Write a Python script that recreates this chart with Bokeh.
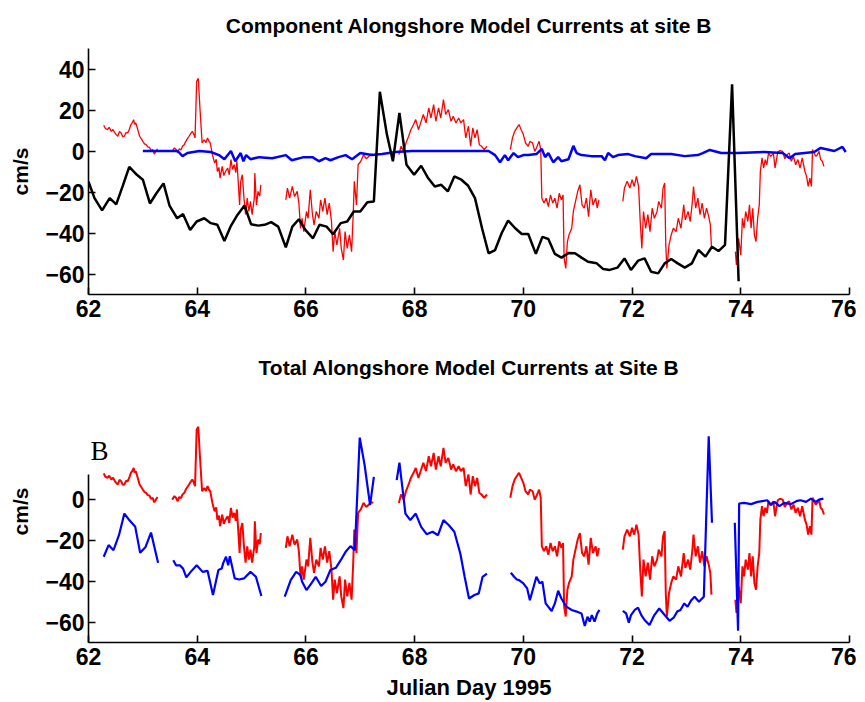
import math
from bokeh.plotting import figure
from bokeh.layouts import column
from bokeh.models import FixedTicker, Label
from bokeh.embed import file_html
from bokeh.resources import INLINE

NAN = float("nan")

# ---------------- data ----------------
x_ticks = [62, 64, 66, 68, 70, 72, 74, 76]
top_y_ticks = [-60, -40, -20, 0, 20, 40]
bot_y_ticks = [-60, -40, -20, 0]

# Red: alongshore current (same series in both panels), 7 segments
red_x_segs = [
    [62.28, 62.31, 62.35, 62.38, 62.42, 62.45, 62.48, 62.51, 62.54, 62.57, 62.60, 62.63, 62.66, 62.69, 62.72, 62.75, 62.78, 62.81, 62.83, 62.85, 62.87, 62.90, 62.94, 62.97, 63.00, 63.03, 63.06, 63.09, 63.12, 63.15, 63.18, 63.21, 63.24, 63.27],
    [63.54, 63.58, 63.61, 63.64, 63.67, 63.70, 63.73, 63.76, 63.79, 63.82, 63.85, 63.88, 63.91, 63.94, 63.96, 63.99, 64.02, 64.05, 64.09, 64.13, 64.16, 64.19, 64.22, 64.24, 64.28, 64.32, 64.35, 64.37, 64.40, 64.42, 64.46, 64.49, 64.52, 64.56, 64.59, 64.62, 64.65, 64.68, 64.71, 64.73, 64.75, 64.78, 64.80, 64.83, 64.86, 64.89, 64.92, 64.95, 64.98, 65.01, 65.05, 65.06, 65.09, 65.12, 65.15, 65.17],
    [65.63, 65.66, 65.70, 65.75, 65.79, 65.84, 65.87, 65.90, 65.93, 65.96, 66.01, 66.04, 66.08, 66.12, 66.15, 66.19, 66.24, 66.27, 66.31, 66.35, 66.39, 66.43, 66.47, 66.50, 66.53, 66.57, 66.62, 66.65, 66.69, 66.72, 66.76, 66.80, 66.84, 66.87, 66.89, 66.93, 66.96, 67.01, 67.06, 67.11, 67.16, 67.20, 67.24],
    [67.71, 67.75, 67.80, 67.84, 67.89, 67.93, 67.98, 68.02, 68.07, 68.12, 68.16, 68.21, 68.26, 68.30, 68.35, 68.39, 68.44, 68.48, 68.53, 68.57, 68.62, 68.67, 68.71, 68.76, 68.81, 68.85, 68.90, 68.94, 68.99, 69.03, 69.07, 69.11, 69.15, 69.19, 69.23, 69.28, 69.33],
    [69.76, 69.80, 69.84, 69.88, 69.92, 69.96, 70.00, 70.04, 70.09, 70.12, 70.17, 70.21, 70.24, 70.29, 70.32, 70.34, 70.38, 70.42, 70.46, 70.50, 70.54, 70.58, 70.62, 70.66, 70.70, 70.73, 70.75, 70.78, 70.81, 70.84, 70.89, 70.92, 70.96, 71.00, 71.04, 71.08, 71.12, 71.16, 71.20, 71.24, 71.28, 71.33, 71.36, 71.39],
    [71.83, 71.86, 71.91, 71.96, 72.00, 72.04, 72.08, 72.12, 72.15, 72.18, 72.21, 72.25, 72.29, 72.33, 72.37, 72.41, 72.46, 72.49, 72.54, 72.57, 72.60, 72.62, 72.64, 72.68, 72.72, 72.76, 72.81, 72.85, 72.90, 72.95, 72.98, 73.03, 73.07, 73.11, 73.13, 73.17, 73.21, 73.25, 73.29, 73.33, 73.37, 73.41, 73.44, 73.46],
    [73.90, 73.92, 73.96, 74.00, 74.03, 74.06, 74.09, 74.13, 74.16, 74.19, 74.22, 74.25, 74.28, 74.31, 74.34, 74.36, 74.39, 74.42, 74.45, 74.48, 74.51, 74.55, 74.60, 74.63, 74.68, 74.72, 74.77, 74.81, 74.85, 74.89, 74.93, 74.97, 75.01, 75.05, 75.09, 75.13, 75.18, 75.21, 75.24, 75.27, 75.30, 75.32, 75.35, 75.38, 75.41, 75.44, 75.47, 75.50, 75.53],
]
red_y_segs = [
    [12.6, 11.0, 10.4, 11.5, 9.6, 10.5, 9.1, 8.0, 7.2, 9.5, 8.8, 7.0, 7.2, 9.0, 8.8, 10.5, 12.9, 14.0, 15.3, 13.0, 13.7, 11.0, 7.2, 6.0, 4.7, 3.5, 3.1, 2.0, 1.8, 0.2, 0.7, -1.5, -0.2, 1.1],
    [-0.2, 1.5, 0.7, -1.0, 1.1, 0.5, 2.3, 3.0, 4.7, 6.0, 7.2, 8.5, 9.6, 8.0, 6.4, 34.0, 35.4, 21.0, 3.9, 5.5, 4.0, 6.4, 4.5, 3.9, -1.8, -5.9, -4.0, -10.0, -8.0, -13.2, -7.5, -12.0, -10.0, -8.3, -11.6, -4.2, -9.0, -6.7, -10.5, -5.0, -13.2, -26.3, -14.8, -11.6, -23.0, -31.0, -23.0, -29.5, -24.6, -31.0, -23.0, -10.8, -26.3, -19.7, -22.0, -16.5],
    [-23.8, -18.1, -23.0, -17.3, -22.2, -19.7, -25.4, -37.7, -32.8, -39.3, -29.5, -32.8, -18.9, -31.0, -36.0, -29.5, -32.8, -23.8, -29.5, -23.0, -31.0, -25.4, -34.4, -49.1, -39.3, -45.8, -37.7, -47.5, -53.2, -39.3, -47.5, -40.9, -49.1, -31.0, -14.8, -26.3, -6.7, -5.0, -1.8, -3.8, -2.6, -1.5, -1.8],
    [-1.8, 2.3, -0.2, 3.9, 7.2, 10.4, 12.9, 15.3, 10.4, 14.5, 17.8, 13.7, 21.0, 16.1, 22.6, 14.5, 21.0, 16.1, 25.1, 17.8, 20.2, 14.5, 17.0, 13.7, 16.1, 13.7, 15.3, 6.4, 12.1, 2.3, 11.3, 6.4, 10.4, 3.1, 2.3, 0.7, 2.3],
    [0.7, 6.4, 9.6, 11.3, 12.9, 10.4, 8.0, 3.9, 2.3, 4.7, 3.9, -0.2, 1.5, 4.7, 0.7, -23.0, -25.4, -23.0, -27.1, -21.4, -25.4, -23.0, -27.9, -20.6, -23.8, -21.4, -52.4, -57.3, -44.2, -40.9, -37.7, -29.5, -24.6, -19.7, -16.5, -26.3, -27.9, -23.0, -32.0, -18.9, -26.3, -23.0, -27.9, -23.8],
    [-24.6, -18.1, -14.8, -18.1, -14.0, -17.3, -12.4, -17.3, -34.4, -47.5, -29.5, -37.7, -31.0, -39.3, -27.9, -32.8, -29.5, -24.6, -27.9, -18.1, -15.6, -45.8, -57.3, -45.8, -40.9, -37.7, -39.3, -32.8, -37.7, -26.3, -33.6, -29.5, -34.4, -24.6, -17.3, -27.9, -23.0, -31.0, -25.4, -32.8, -27.9, -32.0, -36.0, -46.6],
    [-49.1, -55.6, -42.6, -50.8, -32.8, -37.7, -29.5, -34.4, -26.3, -37.7, -27.9, -40.9, -44.2, -32.8, -26.3, -10.0, -3.4, -8.3, -4.2, -6.7, -1.0, -2.6, -1.0, -8.3, -0.5, 0.2, -0.2, -3.8, -1.8, -1.0, -5.0, -2.6, -6.7, -4.2, -8.3, -3.4, -10.0, -12.4, -17.3, -13.2, -17.3, 0.7, -1.0, -2.6, -1.8, -0.2, -4.2, -5.0, -7.5],
]

# Blue (top panel): component near zero
top_blue_x = [63.0, 63.49, 63.64, 63.73, 63.82, 64.04, 64.25, 64.4, 64.5, 64.62, 64.7, 64.8, 64.85, 64.9, 64.98, 65.14, 65.38, 65.63, 65.74, 65.96, 66.12, 66.24, 66.36, 66.45, 66.6, 66.73, 66.85, 67.0, 67.21, 67.4, 67.65, 67.95, 69.36, 69.48, 69.57, 69.66, 69.72, 69.82, 69.9, 70.0, 70.09, 70.24, 70.34, 70.4, 70.46, 70.55, 70.64, 70.7, 70.83, 70.92, 70.98, 71.07, 71.25, 71.44, 71.5, 71.56, 71.65, 71.74, 71.93, 72.05, 72.26, 72.35, 72.72, 72.97, 73.21, 73.3, 73.43, 73.64, 73.94, 74.43, 74.77, 74.9, 75.0, 75.35, 75.47, 75.72, 75.87, 75.93]
top_blue_y = [0, 0, 0, -2.5, -1, 0, -0.5, -2, -4, 0, -5, -1, -5, -2, -4, -3, -3.5, -2, -4.5, -3, -3, -5, -3.5, -4.5, -3, -2, -4, -1, -2, -1.5, -0.5, 0, 0, -2, -5.5, -2, -4.5, -1, -3, -2, -2, -1.5, 1, -3, -1, -5.5, -3, -5, -4, 2.5, -1, -2, -2.5, -2.5, -4.5, -1, -3, -2, -1.5, -2.5, -3.5, -1.5, -1.5, -2.5, -2, -1, 0.5, -1, -1, -0.5, -1, -3.5, -1.5, -0.5, 1.5, 0, 2, -0.5]

# Black (top panel)
top_black_x = [62.0, 62.11, 62.25, 62.39, 62.51, 62.63, 62.75, 62.89, 63.0, 63.13, 63.25, 63.38, 63.49, 63.63, 63.74, 63.87, 63.99, 64.13, 64.25, 64.37, 64.5, 64.62, 64.74, 64.87, 64.99, 65.12, 65.24, 65.36, 65.49, 65.63, 65.75, 65.87, 65.99, 66.13, 66.25, 66.38, 66.5, 66.64, 66.76, 66.88, 67.0, 67.13, 67.25, 67.36, 67.49, 67.6, 67.72, 67.85, 67.99, 68.12, 68.24, 68.37, 68.49, 68.61, 68.73, 68.86, 68.98, 69.11, 69.24, 69.36, 69.48, 69.6, 69.72, 69.85, 69.97, 70.09, 70.23, 70.35, 70.46, 70.58, 70.7, 70.83, 70.95, 71.07, 71.19, 71.35, 71.47, 71.59, 71.73, 71.86, 71.98, 72.11, 72.23, 72.35, 72.48, 72.6, 72.72, 72.84, 72.97, 73.1, 73.22, 73.35, 73.47, 73.59, 73.71, 73.84, 73.96]
top_black_y = [-15, -23, -29, -23, -26, -17, -7.7, -11.6, -14, -25.6, -20.6, -15.8, -26.6, -32.8, -30.8, -38.5, -34.4, -32.8, -35.2, -36, -43.9, -36.5, -31.2, -26.6, -35.7, -36.4, -36, -34.7, -36.9, -47, -36.9, -33.3, -38.5, -42.6, -36, -36.9, -40.6, -35.2, -34.4, -29.5, -29.5, -25, -24.6, 28.9, 8, -5, 18.6, -6.7, -11.6, -7.2, -12.9, -17.3, -16.5, -19.7, -12.4, -14, -16.8, -23, -37.7, -49.9, -48.3, -40.1, -33.9, -37.7, -40.5, -40.5, -50.2, -41.9, -42.9, -50.2, -52, -49.8, -49.9, -52, -54, -54.8, -57.6, -58, -56.9, -52.4, -58, -53.5, -52.4, -58.9, -59.7, -54.8, -52.7, -54.8, -56.9, -54.8, -48.3, -51.5, -46.7, -48.8, -45.8, 32.5, -63.5]

# Blue (bottom panel): total, 7 segments
bot_blue_x_segs = [
    [62.28, 62.37, 62.46, 62.56, 62.66, 62.75, 62.86, 62.95, 63.05, 63.15, 63.24, 63.28],
    [63.56, 63.61, 63.68, 63.74, 63.8, 63.88, 63.99, 64.1, 64.19, 64.29, 64.39, 64.45, 64.48, 64.53, 64.57, 64.6, 64.69, 64.77, 64.86, 64.98, 65.08, 65.18],
    [65.61, 65.72, 65.82, 65.9, 65.93, 66.01, 66.09, 66.18, 66.28, 66.36, 66.45, 66.55, 66.64, 66.73, 66.82, 66.9, 66.99, 67.08, 67.18, 67.25],
    [67.67, 67.72, 67.78, 67.83, 67.92, 68.02, 68.12, 68.22, 68.33, 68.43, 68.53, 68.63, 68.73, 68.84, 68.92, 69.0, 69.1, 69.18, 69.25, 69.33],
    [69.77, 69.83, 69.88, 69.92, 70.0, 70.07, 70.12, 70.18, 70.24, 70.3, 70.35, 70.41, 70.52, 70.58, 70.64, 70.7, 70.79, 70.89, 70.98, 71.07, 71.13, 71.18, 71.22, 71.26, 71.31, 71.36, 71.4],
    [71.83, 71.89, 71.94, 71.98, 72.05, 72.11, 72.17, 72.23, 72.32, 72.41, 72.5, 72.6, 72.69, 72.77, 72.83, 72.89, 72.96, 73.02, 73.09, 73.15, 73.23, 73.32, 73.41, 73.47],
    [73.89, 73.95, 73.97, 74.06, 74.19, 74.31, 74.49, 74.55, 74.62, 74.71, 74.8, 74.92, 75.04, 75.1, 75.2, 75.29, 75.38, 75.44, 75.52],
]
bot_blue_y_segs = [
    [-28.1, -22.4, -24.9, -17.6, -7, -10.2, -13.5, -26.2, -23.3, -16.3, -26.5, -31.1],
    [-29.8, -32.3, -32.3, -33.9, -38.2, -35.5, -32.3, -35.5, -35, -46.8, -34.6, -33.9, -31.1, -28.1, -32.3, -27.8, -38.7, -39.2, -38.7, -35.5, -37.9, -47.3],
    [-47.6, -39.5, -35.5, -37.1, -40.3, -44.4, -41.5, -37.9, -42.4, -40.3, -34.6, -33.5, -29.8, -25.7, -22.9, -24.9, 30.1, 16.6, -2.9, 10.9],
    [9.3, 17.9, 4.4, -7, -10.2, -7, -13.5, -17.1, -15.9, -17.6, -10.2, -12.7, -15.9, -26.5, -37.9, -48.5, -46.8, -46, -37.9, -36.3],
    [-35.9, -37.9, -39.2, -39.5, -41.1, -43.6, -49.3, -43.6, -37.9, -41.1, -40.3, -50.9, -54.6, -50.9, -44.7, -48.5, -52.5, -54.1, -54.9, -55.8, -61.9, -57.4, -59.8, -56.6, -59.8, -55.8, -54.1],
    [-54.5, -55.8, -60.3, -56.6, -54.1, -53, -56.6, -59, -61.5, -56.6, -53.4, -56.6, -59.4, -57.7, -54.9, -54.1, -50.9, -52.5, -49.3, -47.6, -50.1, -47.6, 30.7, -11.5],
    [-11.5, -64.2, -2.1, -1.8, -2.4, -1.3, -0.5, -2.9, -1.3, -3.4, -1.8, -2.4, -0.8, -0.5, -1.3, 0.3, -1.3, -0.2, 0.3],
]

title_top = "Component Alongshore Model Currents at site B"
title_bot = "Total Alongshore Model Currents at Site B"
y_label = "cm/s"
x_label = "Julian Day 1995"
panel_tag = "B"


def join(segs):
    out = []
    for i, s in enumerate(segs):
        if i:
            out.append(NAN)
        out.extend(s)
    return out


red_x = join(red_x_segs)
red_y = join(red_y_segs)
bb_x = join(bot_blue_x_segs)
bb_y = join(bot_blue_y_segs)

FONT = "Liberation Sans"


def style(p, yticks):
    p.outline_line_color = None
    p.xgrid.grid_line_color = None
    p.ygrid.grid_line_color = None
    p.background_fill_color = "white"
    p.border_fill_color = "white"
    p.xaxis.ticker = FixedTicker(ticks=x_ticks)
    p.yaxis.ticker = FixedTicker(ticks=yticks)
    for ax in p.xaxis + p.yaxis:
        ax.axis_line_width = 1.6
        ax.axis_line_color = "black"
        ax.major_tick_in = 7
        ax.major_tick_out = 0
        ax.major_tick_line_width = 1.6
        ax.minor_tick_line_color = None
        ax.major_label_text_font = FONT
        ax.major_label_text_font_style = "bold"
        ax.major_label_text_font_size = "23px"
        ax.major_label_text_color = "black"
        ax.axis_label_text_font = FONT
        ax.axis_label_text_font_style = "bold"
        ax.axis_label_text_color = "black"
    p.xaxis.major_label_standoff = 5
    p.yaxis.major_label_standoff = 4
    p.yaxis.axis_label = y_label
    p.yaxis.axis_label_text_font_size = "21px"
    p.yaxis.axis_label_standoff = 10
    p.title.text_font = FONT
    p.title.text_font_style = "bold"
    p.title.text_font_size = "21px"
    p.title.align = "center"
    p.title.text_color = "black"


# ---------------- top panel ----------------
p1 = figure(frame_width=761, frame_height=246, x_range=(62, 76), y_range=(-70, 50),
            output_backend="svg", toolbar_location=None, title=title_top,
            min_border_left=88, min_border_right=7, min_border_top=47, min_border_bottom=45)
style(p1, top_y_ticks)
p1.title.standoff = 23
p1.line(red_x, red_y, line_color="#ff0000", line_width=1.3)
p1.line(top_blue_x, top_blue_y, line_color="#0000ff", line_width=2.5)
p1.line(top_black_x, top_black_y, line_color="black", line_width=2.5)

# ---------------- bottom panel ----------------
p2 = figure(frame_width=761, frame_height=262, x_range=(62, 76), y_range=(-70, 58),
            output_backend="svg", toolbar_location=None, title=title_bot,
            min_border_left=88, min_border_right=7, min_border_top=41, min_border_bottom=61)
style(p2, bot_y_ticks)
p2.title.standoff = 3
p2.yaxis.bounds = (-70, 12)
p2.xaxis.axis_label = x_label
p2.xaxis.axis_label_text_font_size = "22px"
p2.xaxis.axis_label_standoff = 7
p2.line(red_x, red_y, line_color="#ff0000", line_width=2)
p2.line(bb_x, bb_y, line_color="#0000ff", line_width=2.2)
p2.add_layout(Label(x=2, y=192, x_units="screen", y_units="screen", text=panel_tag,
                    text_font="Liberation Serif", text_font_size="27px",
                    text_color="black", text_baseline="alphabetic"))

layout = column(p1, p2)
open("out.html", "w").write(file_html(layout, INLINE))
